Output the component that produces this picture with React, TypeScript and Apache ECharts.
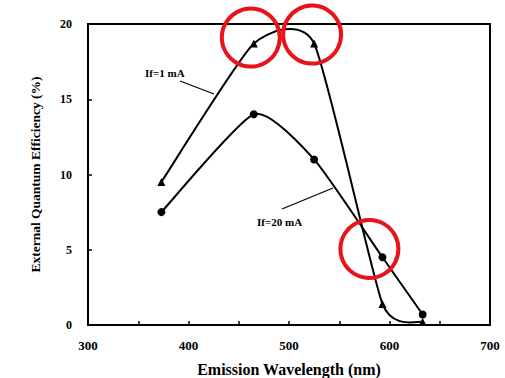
import React, { useEffect, useRef } from "react";
import * as echarts from "echarts";

const wavelengths = [373, 465, 525, 593, 633];
const eqe1mA = [9.5, 18.7, 18.7, 1.4, 0.2];
const eqe20mA = [7.5, 14.0, 11.0, 4.5, 0.7];
const highlightX = [462, 523, 580];
const highlightY = [19.1, 19.3, 5.05];
const xTicks = [300, 400, 500, 600, 700];
const yTicks = [0, 5, 10, 15, 20];

const serif = "'Liberation Serif', 'Times New Roman', Times, serif";
const TENSION = 0.095;

function curveSeries(name: string, values: number[]) {
  return {
    name,
    type: "custom",
    clip: true,
    data: wavelengths.map((x, i) => [x, values[i]]),
    renderItem: (params: any, api: any) => {
      const i = params.dataIndex;
      if (i >= wavelengths.length - 1) return null;
      const pt = (k: number) => {
        const j = Math.max(0, Math.min(wavelengths.length - 1, k));
        return api.coord([wavelengths[j], values[j]]);
      };
      const p0 = pt(i - 1);
      const p1 = pt(i);
      const p2 = pt(i + 1);
      const p3 = pt(i + 2);
      return {
        type: "bezierCurve",
        shape: {
          x1: p1[0],
          y1: p1[1],
          x2: p2[0],
          y2: p2[1],
          cpx1: p1[0] + (p2[0] - p0[0]) * TENSION,
          cpy1: p1[1] + (p2[1] - p0[1]) * TENSION,
          cpx2: p2[0] - (p3[0] - p1[0]) * TENSION,
          cpy2: p2[1] - (p3[1] - p1[1]) * TENSION,
        },
        style: { stroke: "#000", lineWidth: 2, fill: "none" },
      };
    },
  };
}

export default function App() {
  const ref = useRef<HTMLDivElement>(null);
  useEffect(() => {
    if (!ref.current) return;
    const chart = echarts.init(ref.current, undefined, { renderer: "svg" });
    const axisCommon = {
      axisLine: { show: true, lineStyle: { color: "#000", width: 2 } },
      axisTick: { show: true, inside: true, length: 4, lineStyle: { color: "#000", width: 1.5 } },
      minorTick: { show: false },
      splitLine: { show: false },
    };
    chart.setOption({
      animation: false,
      backgroundColor: "#fff",
      grid: {
        left: 88,
        right: 15,
        top: 24,
        bottom: 53,
        outerBoundsMode: "none",
        containLabel: false,
        show: true,
        borderColor: "#000",
        borderWidth: 2,
        backgroundColor: "transparent",
      },
      xAxis: {
        type: "value",
        min: xTicks[0],
        max: xTicks[xTicks.length - 1],
        interval: 100,
        ...axisCommon,
        minorTick: { show: true, splitNumber: 2, length: 4, lineStyle: { color: "#000", width: 1.5 } },
        axisLabel: { margin: 14, color: "#000", fontFamily: serif, fontWeight: "bold", fontSize: 13 },
        name: "Emission Wavelength (nm)",
        nameLocation: "middle",
        nameGap: 36,
        nameTextStyle: { color: "#000", fontFamily: serif, fontWeight: "bold", fontSize: 16 },
      },
      yAxis: {
        type: "value",
        min: yTicks[0],
        max: yTicks[yTicks.length - 1],
        interval: 5,
        ...axisCommon,
        axisLabel: { margin: 16, color: "#000", fontFamily: serif, fontWeight: "bold", fontSize: 12 },
        name: "External Quantum Efficiency (%)",
        nameLocation: "middle",
        nameGap: 46,
        nameTextStyle: { color: "#000", fontFamily: serif, fontWeight: "bold", fontSize: 13.5 },
      },
      series: [
        curveSeries("If=1 mA curve", eqe1mA),
        curveSeries("If=20 mA curve", eqe20mA),
        {
          name: "If=1 mA",
          type: "scatter",
          data: wavelengths.map((x, i) => [x, eqe1mA[i]]),
          symbol: "triangle",
          symbolSize: 8,
          itemStyle: { color: "#000", opacity: 1 },
          z: 5,
        },
        {
          name: "If=20 mA",
          type: "scatter",
          data: wavelengths.map((x, i) => [x, eqe20mA[i]]),
          symbol: "circle",
          symbolSize: 8,
          itemStyle: { color: "#000", opacity: 1 },
          z: 5,
        },
        {
          name: "highlight",
          type: "scatter",
          data: highlightX.map((x, i) => [x, highlightY[i]]),
          symbol: "circle",
          symbolSize: 58,
          clip: false,
          z: 10,
          itemStyle: { color: "rgba(0,0,0,0)", borderColor: "#e8141a", borderWidth: 4, opacity: 1 },
        },
      ],
      graphic: [
        { type: "text", left: 145, top: 67, style: { text: "If=1 mA", fontFamily: serif, fontWeight: "bold", fontSize: 11, fill: "#000" } },
        { type: "line", shape: { x1: 180, y1: 81, x2: 214, y2: 94 }, style: { stroke: "#000", lineWidth: 1.2 } },
        { type: "text", left: 257, top: 216, style: { text: "If=20 mA", fontFamily: serif, fontWeight: "bold", fontSize: 11, fill: "#000" } },
        { type: "line", shape: { x1: 282, y1: 209, x2: 333, y2: 188 }, style: { stroke: "#000", lineWidth: 1.2 } },
      ],
    });
    return () => chart.dispose();
  }, []);
  return <div ref={ref} style={{ width: 505, height: 378, position: "absolute", left: 0, top: 0 }} />;
}
